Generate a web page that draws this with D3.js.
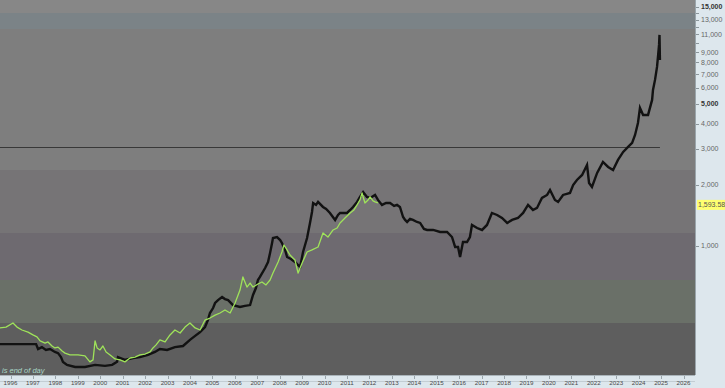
<!DOCTYPE html>
<html><head><meta charset="utf-8">
<script src="https://cdn.jsdelivr.net/npm/d3@7"></script>
<style>body{margin:0;background:#dde7ed;} svg{display:block}</style>
</head><body><svg id="c" width="725" height="388"></svg>
<script>
// ---- data ----
const blackYears = [1995.53,1996.42,1997.14,1997.23,1997.40,1997.58,1997.76,1997.98,1998.12,1998.25,1998.34,1998.52,1998.88,1999.32,1999.77,2000.21,2000.53,2000.75,2000.79,2001.10,2001.46,2001.77,2002.13,2002.44,2002.66,2002.98,2003.33,2003.69,2004.00,2004.23,2004.45,2004.67,2004.80,2004.89,2005.03,2005.12,2005.25,2005.43,2005.56,2005.70,2005.92,2006.23,2006.45,2006.68,2006.81,2006.94,2007.03,2007.12,2007.35,2007.48,2007.57,2007.66,2007.70,2007.88,2008.02,2008.10,2008.24,2008.33,2008.50,2008.68,2008.91,2009.04,2009.13,2009.22,2009.35,2009.44,2009.49,2009.62,2009.71,2009.93,2010.07,2010.24,2010.47,2010.60,2010.69,2011.00,2011.14,2011.27,2011.45,2011.58,2011.72,2011.89,2012.03,2012.25,2012.38,2012.56,2012.74,2012.92,2013.10,2013.23,2013.36,2013.50,2013.59,2013.68,2013.81,2013.94,2014.12,2014.26,2014.43,2014.57,2014.84,2015.15,2015.46,2015.68,2015.82,2015.95,2016.04,2016.17,2016.35,2016.48,2016.57,2016.80,2017.02,2017.24,2017.46,2017.69,2017.91,2018.14,2018.36,2018.62,2018.85,2019.07,2019.29,2019.47,2019.69,2019.92,2020.05,2020.27,2020.41,2020.63,2020.94,2021.08,2021.25,2021.48,2021.70,2021.79,2021.92,2022.15,2022.41,2022.64,2022.86,2023.08,2023.31,2023.53,2023.71,2023.84,2023.97,2024.06,2024.20,2024.42,2024.60,2024.64,2024.73,2024.82,2024.87,2024.91,2024.93,2024.95];
const blackValues = [329,329,329,311,318,308,311,301,297,284,269,260,254,254,260,257,260,269,284,275,281,284,291,301,311,308,318,322,345,361,377,399,432,468,495,524,542,561,548,542,512,501,507,512,574,621,680,704,779,834,924,1035,1095,1107,1070,1035,956,883,863,834,788,934,1011,1095,1298,1470,1628,1592,1647,1556,1522,1454,1343,1421,1454,1454,1504,1556,1647,1743,1844,1743,1723,1783,1685,1592,1628,1628,1574,1592,1556,1389,1343,1313,1358,1343,1313,1298,1213,1199,1199,1172,1172,1107,989,989,883,1046,1046,1107,1269,1226,1199,1269,1454,1421,1373,1298,1343,1373,1454,1592,1504,1539,1723,1783,1886,1685,1647,1783,1823,1996,2113,2236,2505,2042,1952,2288,2592,2449,2367,2651,2903,3072,3215,3520,4033,4780,4415,4415,5233,5862,6565,7607,8716,9762,10933,8236];
const greenYears = [1995.53,1995.80,1996.11,1996.29,1996.51,1996.78,1997.00,1997.18,1997.32,1997.54,1997.67,1997.85,1997.98,1998.12,1998.30,1998.43,1998.65,1999.01,1999.32,1999.54,1999.68,1999.77,1999.86,1999.99,2000.12,2000.26,2000.44,2000.66,2000.88,2001.10,2001.33,2001.55,2001.77,2002.00,2002.22,2002.35,2002.49,2002.66,2002.89,2003.11,2003.33,2003.56,2003.78,2004.00,2004.23,2004.45,2004.67,2004.89,2005.12,2005.34,2005.56,2005.79,2006.01,2006.23,2006.36,2006.54,2006.68,2006.81,2007.03,2007.21,2007.39,2007.57,2007.70,2007.93,2008.10,2008.19,2008.33,2008.46,2008.68,2008.82,2009.00,2009.22,2009.44,2009.71,2009.93,2010.15,2010.38,2010.56,2010.69,2010.91,2011.14,2011.31,2011.45,2011.58,2011.67,2011.80,2011.94,2012.03,2012.16,2012.25,2012.38];
const greenValues = [395,399,418,399,386,377,365,357,341,333,337,322,315,318,304,297,291,291,288,269,275,341,315,308,322,301,291,278,275,269,281,284,291,294,301,315,326,345,337,365,386,373,399,418,395,386,432,442,457,468,484,468,524,607,704,628,657,628,650,665,643,680,736,834,934,1011,956,903,853,736,825,934,956,989,1159,1107,1199,1226,1298,1373,1454,1504,1592,1685,1823,1628,1685,1743,1666,1647,1628];
const xTickYears = d3.range(1996, 2027);
const yTickValues = [1000,2000,3000,4000,5000,6000,7000,8000,9000,11000,13000,15000];
const yMinorTicks = [10000,12000,14000];
const boldTicks = [5000,15000];
const refLevel = 3072;
const refEndYear = 2024.95;
const lastLabelValue = 1593.58;
const lastLabelText = "1,593.58";
const footnote = "is end of day";

// ---- layout ----
const W = 725, H = 388, PW = 695, PH = 375;
const svg = d3.select("#c");
const x = d3.scaleLinear().domain([1996, 2026]).range([10.5, 683.5]);
const y = d3.scaleLog().domain([231.8, 16236]).range([PH, 0]);

// background bands
const bands = [
  [0, 13, "#878787"], [13, 29, "#7b8387"], [29, 170, "#7e7e7e"],
  [170, 233, "#767476"], [233, 280, "#6e6a70"], [280, 323, "#6a7068"], [323, PH, "#5e5e5e"]
];
svg.append("g").selectAll("rect").data(bands).join("rect")
  .attr("x", 0).attr("width", PW).attr("y", d => d[0]).attr("height", d => d[1] - d[0])
  .attr("fill", d => d[2]);

svg.append("defs").append("clipPath").attr("id", "clip")
  .append("rect").attr("x", 0).attr("y", 0).attr("width", PW).attr("height", PH);
const plot = svg.append("g").attr("clip-path", "url(#clip)");

// reference line
plot.append("line").attr("x1", 0).attr("x2", x(refEndYear))
  .attr("y1", Math.round(y(refLevel)) + 0.5).attr("y2", Math.round(y(refLevel)) + 0.5)
  .attr("stroke", "#383838").attr("stroke-width", 1);

const line = d3.line().x(d => x(d[0])).y(d => y(d[1]));
plot.append("path").datum(blackYears.map((t, i) => [t, blackValues[i]]))
  .attr("d", line).attr("fill", "none").attr("stroke", "#121212")
  .attr("stroke-width", 2.4).attr("stroke-linejoin", "miter");
plot.append("path").datum(greenYears.map((t, i) => [t, greenValues[i]]))
  .attr("d", line).attr("fill", "none").attr("stroke", "#9fe35a")
  .attr("stroke-width", 1.3).attr("stroke-linejoin", "round");

plot.append("text").attr("x", 2).attr("y", 373).text(footnote)
  .attr("font-family", "Liberation Sans, Arial, sans-serif").attr("font-size", 7.5)
  .attr("font-style", "italic").attr("fill", "#a9d6c6");

// right axis panel
svg.append("rect").attr("x", PW).attr("y", 0).attr("width", W - PW).attr("height", H).attr("fill", "#dde7ed");
svg.append("line").attr("x1", PW + 0.5).attr("x2", PW + 0.5).attr("y1", 0).attr("y2", PH)
  .attr("stroke", "#9aa5ab");
// bottom axis panel
svg.append("rect").attr("x", 0).attr("y", PH).attr("width", W).attr("height", H - PH).attr("fill", "#dde7ed");
svg.append("line").attr("x1", 0).attr("x2", PW).attr("y1", PH + 0.5).attr("y2", PH + 0.5).attr("stroke", "#aab4ba");
svg.append("line").attr("x1", 0).attr("x2", PW).attr("y1", 381.5).attr("y2", 381.5).attr("stroke", "#c3cdd3");

const xa = svg.append("g");
xa.selectAll("line").data(xTickYears).join("line")
  .attr("x1", d => Math.round(x(d)) + 0.5).attr("x2", d => Math.round(x(d)) + 0.5)
  .attr("y1", PH + 1).attr("y2", PH + 4).attr("stroke", "#9aa5ab");
xa.selectAll("text").data(xTickYears).join("text")
  .attr("x", d => x(d)).attr("y", 385).attr("text-anchor", "middle")
  .attr("font-family", "Liberation Sans, Arial, sans-serif").attr("font-size", 6.2)
  .attr("fill", "#4a4a4a").text(d => d);

const ya = svg.append("g");
ya.selectAll("line.t").data(yTickValues.concat(yMinorTicks)).join("line")
  .attr("x1", PW + 1).attr("x2", PW + 4)
  .attr("y1", d => Math.round(y(d)) + 0.5).attr("y2", d => Math.round(y(d)) + 0.5)
  .attr("stroke", "#8a959b");
ya.selectAll("text").data(yTickValues).join("text")
  .attr("x", 701).attr("y", d => y(d)).attr("dy", "0.35em")
  .attr("font-family", "Liberation Sans, Arial, sans-serif").attr("font-size", 7)
  .attr("font-weight", d => boldTicks.includes(d) ? "bold" : "normal")
  .attr("fill", d => boldTicks.includes(d) ? "#333" : "#666")
  .text(d => d3.format(",")(d));

// last value label
const ly = y(lastLabelValue);
svg.append("rect").attr("x", 697).attr("y", ly - 5).attr("width", 28).attr("height", 10).attr("fill", "#ffff70");
svg.append("text").attr("x", 698).attr("y", ly).attr("dy", "0.35em")
  .attr("font-family", "Liberation Sans, Arial, sans-serif").attr("font-size", 7)
  .attr("fill", "#555").text(lastLabelText);
</script></body></html>
